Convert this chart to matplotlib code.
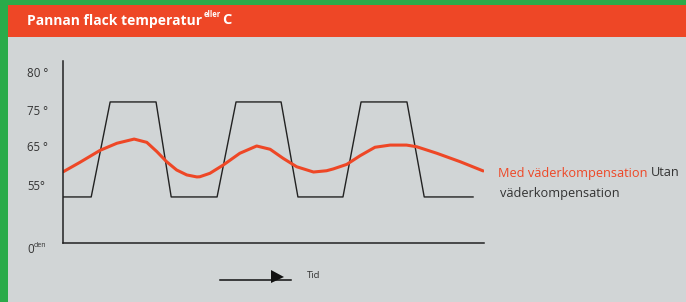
import matplotlib
matplotlib.use('Agg')
import matplotlib.pyplot as plt
from matplotlib.patches import Rectangle, Polygon
from matplotlib.lines import Line2D

# colours
green = '#2AAB4A'
red = '#EE4726'
grey = '#D1D5D6'
dark = '#333333'

# time axis 0..100, level axis 0..100 (arbitrary units as in the sketch)
utan_t = [0, 6.7, 11.2, 22.1, 25.7, 36.6, 41.1, 51.8, 55.8, 66.5, 70.8, 81.7, 85.8, 97.4]
utan_v = [25.3, 25.3, 77.5, 77.5, 25.3, 25.3, 77.5, 77.5, 25.3, 25.3, 77.5, 77.5, 25.3, 25.3]

med_t = [0.1, 4.0, 8.8, 12.8, 16.9, 19.9, 22.3, 24.6, 27.0, 29.4, 31.8, 32.5,
         34.9, 38.1, 42.0, 46.0, 49.2, 52.3, 55.5, 59.5, 62.6, 64.2, 67.4, 70.6,
         74.1, 77.7, 81.6, 84.0, 88.8, 94.3, 99.8]
med_v = [39.2, 44.3, 50.9, 54.8, 57.1, 55.3, 50.2, 44.7, 40.1, 37.4, 36.3, 36.4,
         38.3, 42.9, 49.3, 53.3, 51.5, 46.5, 41.9, 39.0, 39.7, 40.7, 43.2, 48.0,
         52.6, 53.8, 53.8, 52.9, 49.3, 44.7, 39.6]

tick_levels = [92.9, 72.5, 52.2, 31.3, -3.8]
tick_labels = ['80 °', '75 °', '65 °', '55°', '0']

W, H = 686, 302
fig = plt.figure(figsize=(W / 100, H / 100), dpi=100, facecolor=grey)

def fx(px):
    return px / W

def fy(py):
    return 1 - py / H

# frame: green strips on top and left, red header
fig.add_artist(Rectangle((0, 0), fx(8), 1, transform=fig.transFigure, color=green, lw=0))
fig.add_artist(Rectangle((0, fy(5)), 1, 5 / H, transform=fig.transFigure, color=green, lw=0))
fig.add_artist(Rectangle((fx(8), fy(37)), 1, 32 / H, transform=fig.transFigure, color=red, lw=0))

font = 'Open Sans'
t1 = fig.text(fx(27), fy(24.5), 'Pannan flack temperatur', color='white', fontsize=10,
              fontweight='bold', family=font, va='baseline')
t2 = fig.text(0, 0, 'eller', color='white', fontsize=5.5, fontweight='bold', family=font)
t3 = fig.text(0, 0, 'C', color='white', fontsize=10.5, fontweight='bold', family=font)

ax = fig.add_axes([fx(63), fy(243), 421 / W, 182 / H])
ax.set_facecolor('none')
ax.plot(utan_t, utan_v, color='#222222', lw=1.0)
ax.plot(med_t, med_v, color=red, lw=2.2, solid_capstyle='round', solid_joinstyle='round')
ax.set_xlim(0, 100)
ax.set_ylim(0, 100)
for s in ['top', 'right']:
    ax.spines[s].set_visible(False)
for s in ['left', 'bottom']:
    ax.spines[s].set_color('#222222')
    ax.spines[s].set_linewidth(1.1)
ax.set_xticks([])
ax.set_yticks([])

# level labels
for lev, lab in zip(tick_levels, tick_labels):
    tt = ax.text(-36 / 421 * 100, lev, lab, color=dark, fontsize=8.3, family=font,
                 va='center', ha='left', clip_on=False)
    if lab == '0':
        ax.annotate('den', xy=(1, 0.55), xycoords=tt, color=dark, fontsize=5,
                    family=font, va='bottom', ha='left')

# legend texts
med = fig.text(fx(498), fy(173), 'Med väderkompensation', color=red, fontsize=9.2,
               family=font, va='center')
fig.text(fx(500), fy(193), 'väderkompensation', color=dark, fontsize=9.2,
         family=font, va='center')

# time arrow
fig.add_artist(Line2D([fx(220), fx(291)], [fy(280), fy(280)], color='#111111', lw=1.1,
                      transform=fig.transFigure))
fig.add_artist(Polygon([[fx(271), fy(270)], [fx(271), fy(283)], [fx(284), fy(277)]],
                       closed=True, transform=fig.transFigure, color='#111111', lw=0))
fig.text(fx(307), fy(276), 'Tid', color=dark, fontsize=6.8, family=font, va='center')

# place superscript pieces after title, and "Utan" after the red legend text
fig.canvas.draw()
r = fig.canvas.get_renderer()
inv = fig.transFigure.inverted()
bb = t1.get_window_extent(r)
x1, _ = inv.transform((bb.x1 + 2, 0))
t2.set_position((x1, fy(17)))
t2.set_va('baseline')
bb2 = t2.get_window_extent(r)
x2, _ = inv.transform((bb2.x1 + 0.5, 0))
t3.set_position((x2, fy(24.5)))
t3.set_va('baseline')
bbm = med.get_window_extent(r)
xm, _ = inv.transform((bbm.x1 + 3, 0))
fig.text(xm, fy(173), 'Utan', color=dark, fontsize=9.2, family=font, va='center')

fig.savefig('out.png', dpi=100, facecolor=grey)
